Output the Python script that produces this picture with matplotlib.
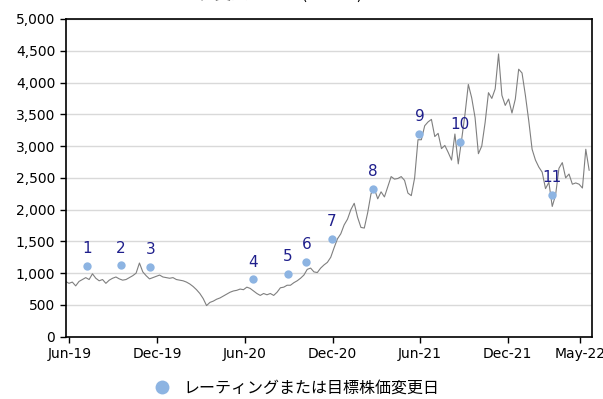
import matplotlib
matplotlib.use("Agg")
import matplotlib.pyplot as plt
from matplotlib.lines import Line2D
from matplotlib.ticker import FuncFormatter
import pandas as pd

plt.rcParams["font.family"] = ["DejaVu Sans", "Noto Sans CJK JP"]

# weekly closing price (yen)
start_date = "2019-05-24"
price = [
    870, 840, 860, 800, 870, 900, 930, 900, 990, 920,
    880, 900, 840, 890, 920, 940, 910, 890, 900, 930,
    960, 1000, 1160, 1020, 960, 910, 930, 950, 970, 940,
    930, 920, 930, 900, 890, 880, 860, 830, 790, 740,
    680, 600, 490, 540, 560, 590, 610, 640, 670, 700,
    720, 730, 750, 740, 780, 760, 720, 680, 650, 680,
    660, 680, 650, 700, 770, 780, 810, 810, 850, 880,
    920, 970, 1060, 1080, 1020, 1010, 1080, 1130, 1170, 1250,
    1400, 1540, 1620, 1760, 1850, 2000, 2100, 1880, 1720, 1710,
    1950, 2250, 2330, 2170, 2280, 2200, 2360, 2520, 2480, 2490,
    2520, 2460, 2260, 2220, 2500, 3100, 3100, 3320, 3380, 3420,
    3150, 3200, 2960, 3010, 2900, 2780, 3190, 2720, 3100, 3500,
    3970, 3760, 3450, 2880, 3000, 3370, 3840, 3750, 3900, 4450,
    3800, 3640, 3740, 3520, 3740, 4210, 4150, 3800, 3400, 2950,
    2780, 2670, 2590, 2330, 2430, 2050, 2230, 2650, 2740, 2500,
    2560, 2400, 2420, 2400, 2340, 2950, 2620,
]

# rating / target price change events
event_dates = [
    "2019-07-07", "2019-09-16", "2019-11-17", "2020-06-18", "2020-08-29",
    "2020-10-07", "2020-11-29", "2021-02-23", "2021-05-31", "2021-08-24",
    "2022-03-03",
]
event_values = [1118, 1124, 1102, 903, 992, 1180, 1538, 2325, 3190, 3070, 2230]
event_labels = [str(i) for i in range(1, 12)]

tick_dates = ["2019-06-01", "2019-12-01", "2020-06-01", "2020-12-01",
              "2021-06-01", "2021-12-01", "2022-05-01"]
tick_labels = ["Jun-19", "Dec-19", "Jun-20", "Dec-20", "Jun-21", "Dec-21", "May-22"]

title = "株価とレーティング変更の推移 (日本円)"
legend_label = "レーティングまたは目標株価変更日"

dates = pd.date_range(start_date, periods=len(price), freq="7D")
ev_dates = pd.to_datetime(event_dates)

fig = plt.figure(figsize=(6.03, 3.99), dpi=100)
ax = fig.add_axes([0.1088, 0.1561, 0.873, 0.7963])

ax.plot(dates, price, color="#7F7F7F", lw=0.8, zorder=2)
ax.plot(ev_dates, event_values, "o", color="#8DB4E2", ms=6, mec="none", zorder=3)
for d, v, lab in zip(ev_dates, event_values, event_labels):
    ax.annotate(lab, (d, v), xytext=(0, 7), textcoords="offset points",
                ha="center", va="bottom", fontsize=11, color="#1F1F8C", zorder=4)

ax.set_ylim(0, 5000)
ax.set_yticks(range(0, 5001, 500))
ax.yaxis.set_major_formatter(FuncFormatter(lambda v, p: f"{int(v):,}"))
ax.grid(axis="y", color="#D9D9D9", lw=1)
ax.set_axisbelow(True)

ax.set_xlim(pd.Timestamp("2019-05-24"), pd.Timestamp("2022-05-26"))
ax.set_xticks(pd.to_datetime(tick_dates))
ax.set_xticklabels(tick_labels)

ax.tick_params(axis="both", direction="out", length=4, width=1, labelsize=10, colors="black")
for sp in ax.spines.values():
    sp.set_linewidth(1.2)
    sp.set_color("black")

# title sits mostly above the canvas, as in the source
fig.text(65 / 603, 1 + 1 / 399, title, fontsize=12, ha="left", va="baseline",
         family=["Noto Sans CJK JP", "DejaVu Sans"])

handle = Line2D([], [], marker="o", ls="", color="#8DB4E2", ms=10, mec="none")
fig.legend([handle], [legend_label], loc="center", bbox_to_anchor=(0.492, 0.028),
           frameon=False, handlelength=1, handletextpad=0.8,
           prop={"family": ["Noto Sans CJK JP", "DejaVu Sans"], "size": 11.5})

fig.savefig("out.png", dpi=100)
